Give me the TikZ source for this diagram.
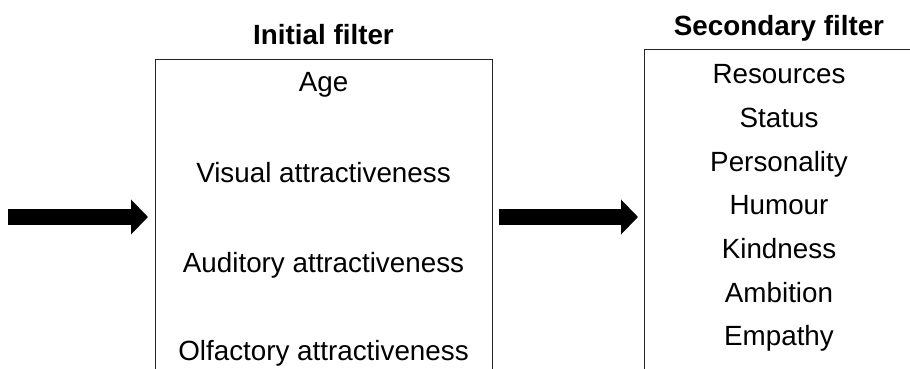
\documentclass[tikz,border=0pt]{standalone}
\usepackage{fontspec}
\setmainfont{Liberation Sans}
\usetikzlibrary{arrows.meta}
\begin{document}
\begin{tikzpicture}[x=1pt,y=-1pt,
  lbl/.style={anchor=base, inner sep=0pt, font=\fontsize{27.8}{33}\selectfont},
  ttl/.style={anchor=base, inner sep=0pt, font=\fontsize{27.8}{33}\selectfont\bfseries},
  filterbox/.style={draw=black!85, line width=1.3pt, inner sep=0pt, anchor=north west, minimum height=420pt},
  fatarrow/.style={line width=16pt, -{Triangle[length=17pt,width=34pt]}}]
\useasboundingbox (0,0) rectangle (910,369);
\clip (0,0) rectangle (910,369);
\node[filterbox, minimum width=337pt] (box1) at (155,59) {};
\node[filterbox, minimum width=320pt] (box2) at (644,49) {};
% titles
\node[ttl] (t1) at (323.5,45) {Initial filter};
\node[ttl] (t2) at (779,36) {Secondary filter};
% left items
\node[lbl] (l1) at (323.5,92) {Age};
\node[lbl] (l2) at (323.5,182) {Visual attractiveness};
\node[lbl] (l3) at (323.5,272) {Auditory attractiveness};
\node[lbl] (l4) at (323.5,360) {Olfactory attractiveness};
% right items
\node[lbl] (r1) at (779,84) {Resources};
\node[lbl] (r2) at (779,127.6) {Status};
\node[lbl] (r3) at (779,171.2) {Personality};
\node[lbl] (r4) at (779,214.8) {Humour};
\node[lbl] (r5) at (779,258.4) {Kindness};
\node[lbl] (r6) at (779,302) {Ambition};
\node[lbl] (r7) at (779,345.6) {Empathy};
% arrows
\coordinate (s1) at (8,217);
\draw[fatarrow, shorten >=7pt] (s1) -- (s1 -| box1.west);
\draw[fatarrow, shorten <=6pt, shorten >=6pt] (box1.east |- s1) -- (box2.west |- s1);
\end{tikzpicture}
\end{document}
